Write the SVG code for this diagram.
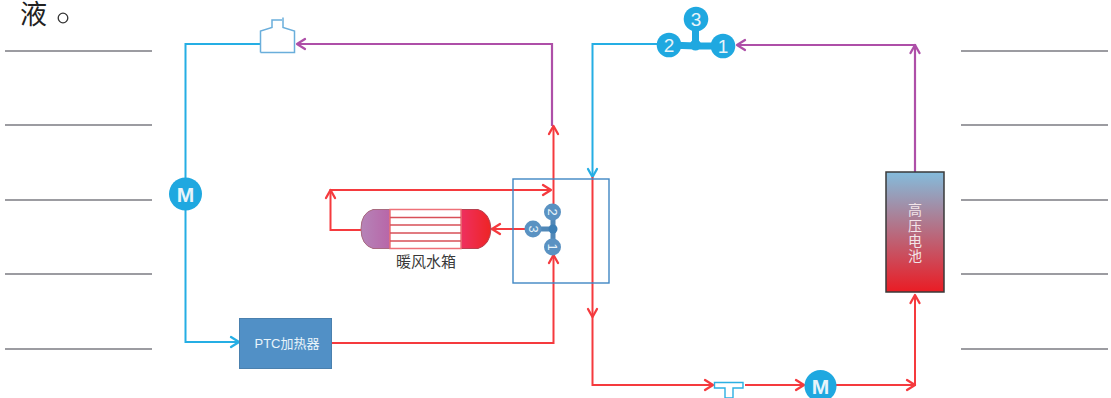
<svg xmlns="http://www.w3.org/2000/svg" width="1111" height="398" viewBox="0 0 1111 398">
<style>
.rule{stroke:#7c7c82;stroke-width:1.4;fill:none}
.b{stroke:#25aee4;stroke-width:2;fill:none}
.p{stroke:#ae4fa8;stroke-width:2.200;fill:none}
.r{stroke:#f53a3e;stroke-width:2;fill:none}
.hb,.hp,.hr{fill:none;stroke-width:2.300;stroke-linecap:round;stroke-linejoin:round}
.hb{stroke:#25aee4}.hp{stroke:#ae4fa8}.hr{stroke:#f53a3e}
.t{font-family:"Liberation Sans","Noto Sans CJK SC",sans-serif;text-anchor:middle}
.w{fill:#e8f4fa}
</style>
<defs>
<linearGradient id="gb" x1="0" y1="0" x2="0" y2="1"><stop offset="0" stop-color="#84bcdc"/><stop offset="1" stop-color="#ea1c24"/></linearGradient>
<linearGradient id="gl" x1="0" y1="0" x2="1" y2="0"><stop offset="0" stop-color="#b584b8"/><stop offset="1" stop-color="#b866a8"/></linearGradient>
<linearGradient id="gr" x1="0" y1="0" x2="1" y2="0"><stop offset="0" stop-color="#ee3060"/><stop offset="1" stop-color="#ee2424"/></linearGradient>
</defs>
<g id="rules">
<path class="rule" d="M5 51H152M5 125H152M5 200H152M5 274H152M5 349H152M961 51H1108M961 125H1108M961 200H1108M961 274H1108M961 349H1108"/>
</g>
<g id="caption"><text x="20" y="24" font-family="'Noto Sans CJK SC',sans-serif" font-size="27" fill="#222">液</text><circle cx="63" cy="18" r="4.800" fill="none" stroke="#333" stroke-width="1.300"/></g>
<g id="connectors">
<path class="b" d="M260 44H185.500V342H239"/>
<path class="hb" d="M231 337L239 342L231 347"/>
<path class="p" d="M552 126V44H297"/>
<path class="hp" d="M305 39L297 44L305 49"/>
<path class="r" d="M553.500 204V126"/>
<path class="hr" d="M549 134L553.500 126L558 134"/>
<path class="r" d="M332 343H553.500V255"/>
<path class="hr" d="M549 263L553.500 255L558 263"/>
<path class="r" d="M541 229H492"/>
<path class="hr" d="M500 224L492 229L500 234"/>
<path class="r" d="M361 230H330.500V190H551"/>
<path class="hr" d="M326 198L330.500 190L335 198"/>
<path class="hr" d="M543 185L551 190L543 195"/>
<path class="b" d="M658 44H592.500V177"/>
<path class="hb" d="M588 169L592.500 177L597 169"/>
<path class="r" d="M592.500 177V385H713"/>
<path class="hr" d="M588 309L592.500 317L597 309"/>
<path class="hr" d="M705 380L713 385L705 390"/>
<path class="r" d="M745 385H804"/>
<path class="hr" d="M796 380L804 385L796 390"/>
<path class="r" d="M836 385H915V295"/>
<path class="hr" d="M907 380L915 385L907 390"/>
<path class="hr" d="M910.500 303L915 295L919.500 303"/>
<path class="p" d="M915 172V45H737"/>
<path class="hp" d="M745 40L737 45L745 50"/>
<path class="hp" d="M910.500 53L915 45L919.500 53"/>
</g>
<g id="tank"><path d="M260.500 52.500V31L272 27.500V20H282" fill="none" stroke="#6aaedb" stroke-width="1.500"/><path d="M283 17.500V27.500L294.500 31V52.500H260.500" fill="none" stroke="#6aaedb" stroke-width="1.500"/></g>
<g id="pump-left"><circle cx="185.500" cy="194" r="16.500" fill="#1fa8e0"/><text class="t w" x="185.500" y="201.500" font-size="21" font-weight="bold">M</text></g>
<g id="ptc"><rect x="239.500" y="318.500" width="92" height="50" fill="#5190c6" stroke="#4a80ae"/><text class="t w" x="287" y="348" font-size="13">PTC加热器</text></g>
<g id="box"><rect x="513" y="179" width="96" height="104" fill="none" stroke="#3f87c4" stroke-width="1.400"/></g>
<g id="valve-small">
<path d="M553 212V247M533 229H553" stroke="#5088b8" stroke-width="5" fill="none"/>
<circle cx="553" cy="229" r="4.500" fill="#3d7fb5"/>
<circle cx="552.500" cy="212" r="8.500" fill="#5a92c2"/><circle cx="533" cy="229" r="8.500" fill="#5a92c2"/><circle cx="552.500" cy="247" r="8.500" fill="#5a92c2"/>
<text class="t w" font-size="13" transform="translate(552.500 212) rotate(90)" y="4.500">2</text>
<text class="t w" font-size="13" transform="translate(533 229) rotate(90)" y="4.500">3</text>
<text class="t w" font-size="13" transform="translate(552.500 247) rotate(90)" y="4.500">1</text>
</g>
<g id="heater">
<path d="M390 209.500H373Q361 213 361 229Q361 245 373 248.500H390Z" fill="url(#gl)" stroke="#a86a80"/>
<path d="M461 209.500H478Q490 213 491 229Q490 245 478 248.500H461Z" fill="url(#gr)" stroke="#b84050"/>
<path d="M390 209.500H461V248.500H390Z" fill="#fff" stroke="#ee7078" stroke-width="1.500"/>
<path d="M390 217.500H461M390 225H461M390 233H461M390 241H461" stroke="#d85058" stroke-width="1.300"/>
<text class="t" x="426" y="267" font-size="15" fill="#3a3a3a">暖风水箱</text>
</g>
<g id="valve-top">
<path d="M669 45L695.500 46L723 46M695.500 46V19" stroke="#1fa8e0" stroke-width="7" fill="none"/>
<circle cx="695.500" cy="45" r="5.500" fill="#1fa8e0"/>
<circle cx="696" cy="19" r="12.300" fill="#1fa8e0"/><circle cx="669" cy="45" r="12.300" fill="#1fa8e0"/><circle cx="723" cy="46" r="12.300" fill="#1fa8e0"/>
<text class="t w" x="696" y="26" font-size="19">3</text>
<text class="t w" x="669" y="52" font-size="19">2</text>
<text class="t w" x="723" y="53" font-size="19">1</text>
</g>
<g id="tee"><path d="M714.500 382.500H743V388H733V398H725V388H714.500Z" fill="#fff" stroke="#2bb0e3" stroke-width="1.400"/></g>
<g id="pump-right"><circle cx="820.500" cy="386" r="16" fill="#1fa8e0"/><text class="t w" x="820.500" y="393.500" font-size="21" font-weight="bold">M</text></g>
<g id="battery"><rect x="886" y="172" width="58" height="120" fill="url(#gb)" stroke="#3a3a3a" stroke-width="1.500"/>
<g fill="#f2e4e8" font-size="14"><text class="t" x="915" y="215">高</text><text class="t" x="915" y="231">压</text><text class="t" x="915" y="246">电</text><text class="t" x="915" y="261">池</text></g></g>
</svg>
